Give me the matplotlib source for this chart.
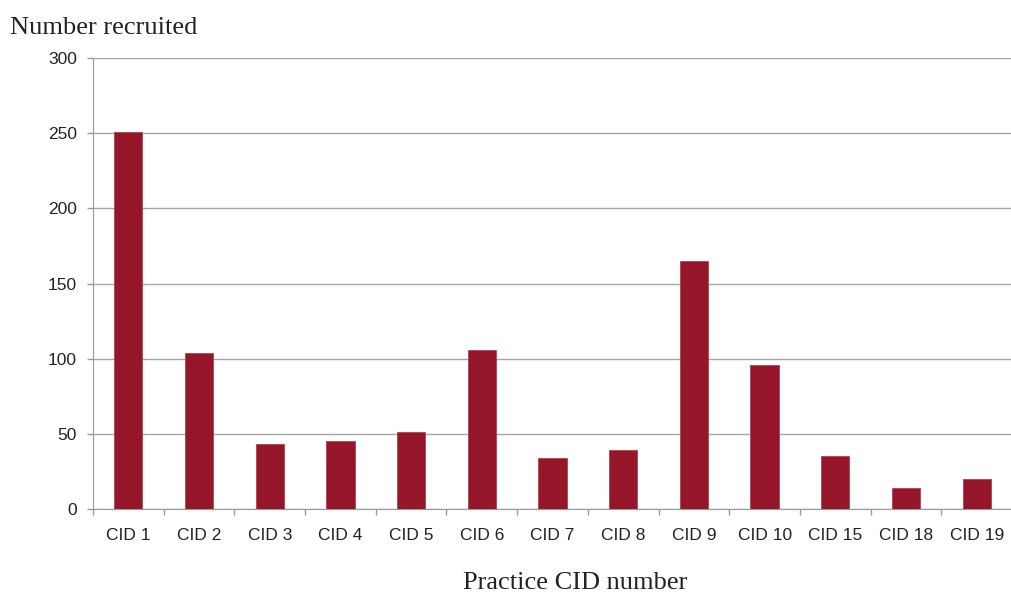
import matplotlib.pyplot as plt

# Data
practices = ["CID 1", "CID 2", "CID 3", "CID 4", "CID 5", "CID 6", "CID 7",
             "CID 8", "CID 9", "CID 10", "CID 15", "CID 18", "CID 19"]
recruited = [251, 104, 43, 45, 51, 106, 34, 39, 165, 96, 35, 14, 20]

W, H = 1012, 593
fig = plt.figure(figsize=(W / 100, H / 100), dpi=100)
ax = fig.add_axes([93 / W, 1 - 509 / H, (1012 - 93) / W, (509 - 58) / H])

x = range(len(practices))
ax.bar(x, recruited, width=0.4, color="#951628", edgecolor="#b04050",
       linewidth=0.6, zorder=3)

ax.set_ylim(0, 300)
ax.set_yticks(range(0, 301, 50))
ax.set_xlim(-0.5, -0.5 + (1012 - 93) / 71.5)
ax.set_xticks(x)
ax.set_xticklabels(practices)

# category boundary tick marks
ax.set_xticks([i - 0.5 for i in range(len(practices) + 1)], minor=True)
ax.tick_params(axis="x", which="major", length=0, pad=14)
ax.tick_params(axis="x", which="minor", length=4.5, color="#999999", width=1)
ax.tick_params(axis="y", length=4.5, color="#999999", width=1, pad=7)

for lab in ax.get_xticklabels() + ax.get_yticklabels():
    lab.set_fontfamily("Liberation Sans")
    lab.set_fontsize(12.5)
    lab.set_color("#222222")

ax.grid(axis="y", color="#a6a6a6", linewidth=1, zorder=0)
for s in ["top", "right"]:
    ax.spines[s].set_visible(False)
ax.spines["left"].set_color("#999999")
ax.spines["bottom"].set_color("#999999")

fig.text(10 / W, 1 - 34 / H, "Number recruited", fontfamily="Liberation Serif",
         fontsize=19, color="#222222", ha="left", va="baseline")
fig.text(575 / W, 1 - 589 / H, "Practice CID number", fontfamily="Liberation Serif",
         fontsize=19, color="#222222", ha="center", va="baseline")

plt.savefig("out.png", dpi=100)
